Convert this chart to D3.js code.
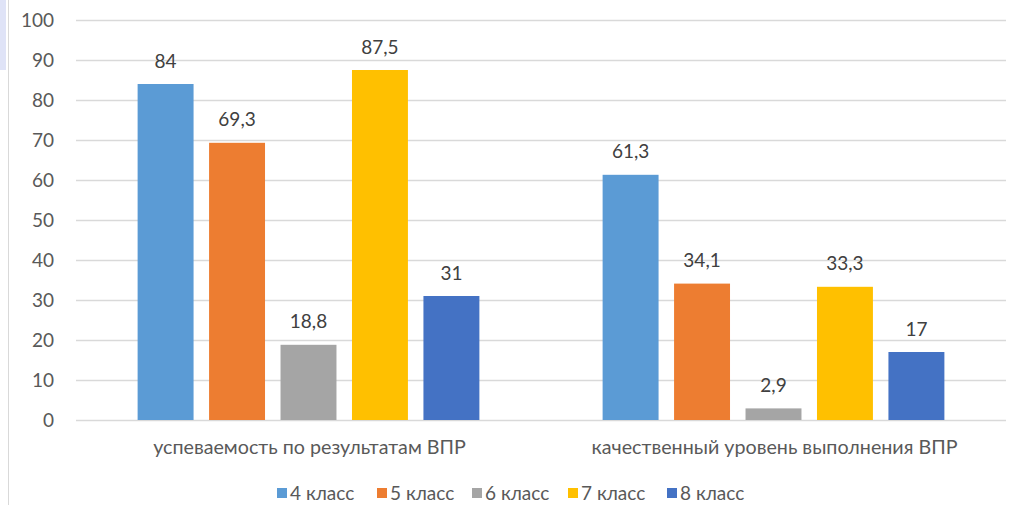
<!DOCTYPE html>
<html>
<head>
<meta charset="utf-8">
<script src="https://cdn.jsdelivr.net/npm/d3@7"></script>
<style>
  body { margin: 0; background: #fff; }
  svg { display: block; font-family: Lato, "Open Sans", sans-serif; }
</style>
</head>
<body>
<div id="chart"></div>
<script>
// Data
var categories = ["успеваемость по результатам ВПР", "качественный уровень выполнения ВПР"];
var seriesNames = ["4 класс", "5 класс", "6 класс", "7 класс", "8 класс"];
var seriesColors = ["#5b9bd5", "#ed7d31", "#a5a5a5", "#ffc000", "#4472c4"];
var values4 = [84, 61.3];
var values5 = [69.3, 34.1];
var values6 = [18.8, 2.9];
var values7 = [87.5, 33.3];
var values8 = [31, 17];
var yTicks = [0, 10, 20, 30, 40, 50, 60, 70, 80, 90, 100];

var allValues = [values4, values5, values6, values7, values8];

var width = 1013, height = 505;
var margin = { left: 76, right: 7, top: 20, bottom: 85 };
var fontSize = 19;

var svg = d3.select("#chart").append("svg")
    .attr("width", width)
    .attr("height", height);

// left strip of the screenshot frame
svg.append("rect").attr("x", 0).attr("y", 0).attr("width", 6).attr("height", 70).attr("fill", "#dfe3f7");
svg.append("line").attr("x1", 8.5).attr("x2", 8.5).attr("y1", 0).attr("y2", height)
    .attr("stroke", "#d9d9d9").attr("stroke-width", 1);

var y = d3.scaleLinear()
    .domain([0, 100])
    .range([height - margin.bottom, margin.top]);

var x0 = d3.scaleBand()
    .domain(categories)
    .range([margin.left, width - margin.right])
    .paddingInner(0.265)
    .paddingOuter(0.1325);

var x1 = d3.scaleBand()
    .domain(seriesNames)
    .range([0, x0.bandwidth()])
    .paddingInner(0.217);

// Gridlines
svg.append("g").selectAll("line").data(yTicks)
    .enter().append("line")
    .attr("x1", margin.left)
    .attr("x2", width - margin.right)
    .attr("y1", function(d) { return Math.round(y(d)) + 0.5; })
    .attr("y2", function(d) { return Math.round(y(d)) + 0.5; })
    .attr("stroke", "#d9d9d9")
    .attr("stroke-width", 1.3);

// Y axis labels
svg.append("g").selectAll("text").data(yTicks)
    .enter().append("text")
    .attr("x", 54)
    .attr("y", function(d) { return y(d); })
    .attr("dy", "0.35em")
    .attr("text-anchor", "end")
    .attr("font-size", fontSize)
    .attr("fill", "#595959")
    .text(function(d) { return d; });

// Bars
var groups = svg.append("g").selectAll("g").data(seriesNames)
    .enter().append("g")
    .attr("fill", function(d, i) { return seriesColors[i]; });

groups.selectAll("rect")
    .data(function(s, si) {
        return categories.map(function(c, ci) { return { cat: c, series: s, value: allValues[si][ci] }; });
    })
    .enter().append("rect")
    .attr("x", function(d) { return x0(d.cat) + x1(d.series); })
    .attr("width", x1.bandwidth())
    .attr("y", function(d) { return y(d.value); })
    .attr("height", function(d) { return y(0) - y(d.value); });

// Value labels
groups.selectAll("text")
    .data(function(s, si) {
        return categories.map(function(c, ci) { return { cat: c, series: s, value: allValues[si][ci] }; });
    })
    .enter().append("text")
    .attr("x", function(d) { return x0(d.cat) + x1(d.series) + x1.bandwidth() / 2; })
    .attr("y", function(d) { return y(d.value) - 23; })
    .attr("dy", "0.35em")
    .attr("text-anchor", "middle")
    .attr("font-size", fontSize)
    .attr("fill", "#404040")
    .text(function(d) { return String(d.value).replace(".", ","); });

// Category labels
svg.append("g").selectAll("text").data(categories)
    .enter().append("text")
    .attr("x", function(d) { return x0(d) + x0.bandwidth() / 2 + 1; })
    .attr("y", 447)
    .attr("dy", "0.35em")
    .attr("text-anchor", "middle")
    .attr("font-size", 19.7)
    .attr("fill", "#595959")
    .text(function(d) { return d; });

// Legend
var legendX = [277, 377, 472, 568, 667];
var legend = svg.append("g").selectAll("g").data(seriesNames)
    .enter().append("g")
    .attr("transform", function(d, i) { return "translate(" + legendX[i] + ",493)"; });

legend.append("rect")
    .attr("x", 0).attr("y", -5)
    .attr("width", 10).attr("height", 10)
    .attr("fill", function(d, i) { return seriesColors[i]; });

legend.append("text")
    .attr("x", 13)
    .attr("y", 0)
    .attr("dy", "0.35em")
    .attr("font-size", fontSize)
    .attr("fill", "#595959")
    .text(function(d) { return d; });
</script>
</body>
</html>
